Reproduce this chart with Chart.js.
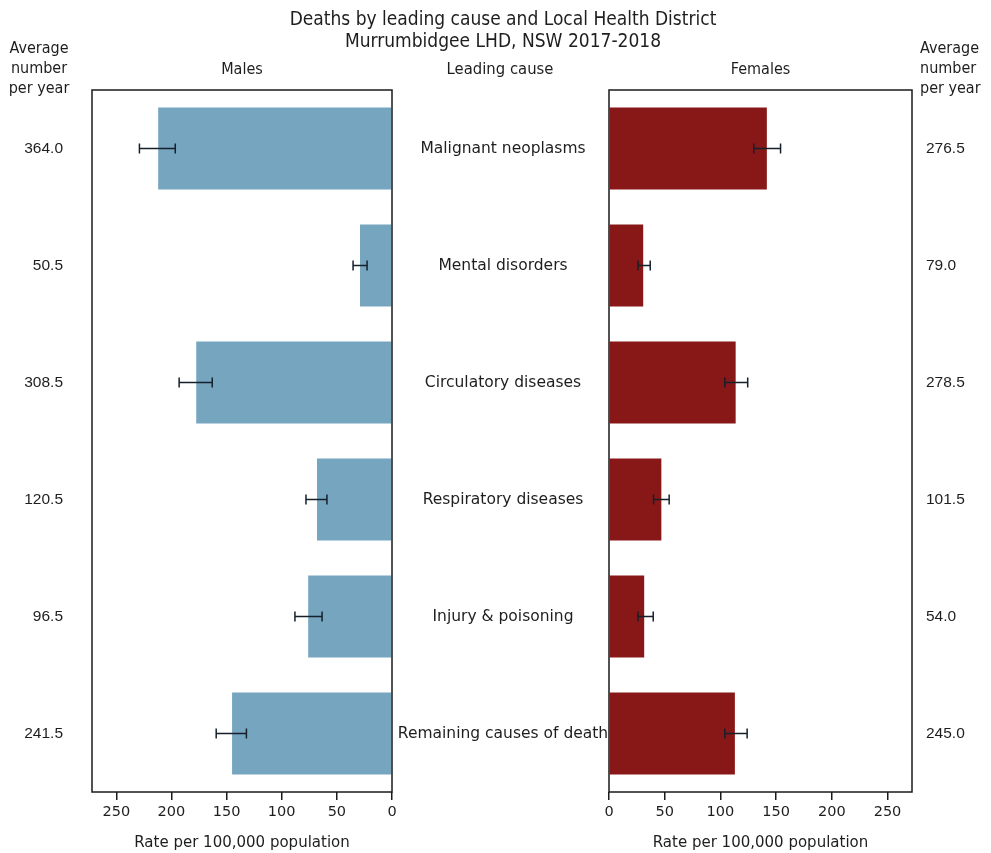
<!DOCTYPE html>
<html>
<head>
<meta charset="utf-8">
<script src="https://cdn.jsdelivr.net/npm/chart.js@4"></script>
<style>
  body { margin: 0; background: #fff; }
  #wrap { position: relative; width: 991px; height: 853px; }
  #wrap canvas { position: absolute; left: 0; top: 0; }
</style>
</head>
<body>
<div id="wrap">
  <canvas id="males" width="991" height="853"></canvas>
  <canvas id="females" width="991" height="853"></canvas>
</div>
<script>
// values (rate per 100,000, with 95% CI)
const causes = ["Malignant neoplasms", "Mental disorders", "Circulatory diseases",
  "Respiratory diseases", "Injury & poisoning", "Remaining causes of death"];
const maleRate = [212, 29, 177.5, 68, 76, 145];
const maleLow = [196.5, 22.6, 163, 59, 63.4, 132];
const maleHigh = [229, 35.3, 193, 78, 88, 159.4];
const maleAvg = ["364.0", "50.5", "308.5", "120.5", "96.5", "241.5"];
const femaleRate = [141.7, 30.7, 113.7, 47, 31.6, 113];
const femaleLow = [130, 26, 104, 40, 26, 104];
const femaleHigh = [154, 37, 124.5, 54, 39.7, 124];
const femaleAvg = ["276.5", "79.0", "278.5", "101.5", "54.0", "245.0"];
const rateTicks = [0, 50, 100, 150, 200, 250];

const textColor = "#1e1e1e";
const narrow = "'DejaVu Sans Condensed', 'DejaVu Sans'";
Chart.defaults.font.family = "DejaVu Sans";
Chart.defaults.color = textColor;

// draws the frame and the error bars
const boxAndErrors = {
  id: "boxAndErrors",
  afterDatasetsDraw(chart, args, opts) {
    const ctx = chart.ctx;
    const a = chart.chartArea;
    const x = chart.scales.x, y = chart.scales.y;
    ctx.save();
    ctx.strokeStyle = "#1a1a1a";
    ctx.lineWidth = 1.5;
    ctx.strokeRect(a.left, a.top, a.right - a.left, a.bottom - a.top);
    ctx.strokeStyle = "#15202b";
    ctx.lineWidth = 1.5;
    opts.low.forEach((lo, i) => {
      const x1 = x.getPixelForValue(lo);
      const x2 = x.getPixelForValue(opts.high[i]);
      const yy = y.getPixelForValue(i);
      ctx.beginPath();
      ctx.moveTo(x1, yy); ctx.lineTo(x2, yy);
      ctx.moveTo(x1, yy - 5); ctx.lineTo(x1, yy + 5);
      ctx.moveTo(x2, yy - 5); ctx.lineTo(x2, yy + 5);
      ctx.stroke();
    });
    ctx.restore();
  }
};

// text around the panels
const labels = {
  id: "labels",
  afterDraw(chart, args, opts) {
    const ctx = chart.ctx;
    const a = chart.chartArea;
    const y = chart.scales.y;
    ctx.save();
    ctx.fillStyle = textColor;
    ctx.textBaseline = "middle";
    ctx.font = "16px " + narrow;
    ctx.textAlign = "center";
    ctx.fillText(opts.header, (a.left + a.right) / 2, 70);
    ["Average", "number", "per year"].forEach((t, i) => {
      ctx.textAlign = opts.side === "left" ? "center" : "left";
      ctx.fillText(t, opts.side === "left" ? 39 : 920, 49 + i * 20);
    });
    ctx.font = "15.5px 'Liberation Sans'";
    opts.avg.forEach((v, i) => {
      const yy = y.getPixelForValue(i);
      if (opts.side === "left") { ctx.textAlign = "right"; ctx.fillText(v, 63, yy); }
      else { ctx.textAlign = "left"; ctx.fillText(v, 926, yy); }
    });
    if (opts.side === "left") {
      ctx.textAlign = "center";
      ctx.font = "19px " + narrow;
      ctx.fillText("Deaths by leading cause and Local Health District", 503, 20);
      ctx.fillText("Murrumbidgee LHD, NSW 2017-2018", 503, 42);
      ctx.font = "16.5px " + narrow;
      ctx.fillText("Leading cause", 500, 70);
      ctx.font = "15.5px 'DejaVu Sans'";
      causes.forEach((c, i) => ctx.fillText(c, 503, y.getPixelForValue(i)));
    }
    ctx.restore();
  }
};

function makePanel(id, side, rate, low, high, avg, color, padL, padR, header) {
  return new Chart(document.getElementById(id), {
    type: "bar",
    data: {
      labels: causes,
      datasets: [{ data: rate, backgroundColor: color, barPercentage: 0.7, categoryPercentage: 1 }]
    },
    options: {
      indexAxis: "y",
      responsive: false,
      animation: false,
      layout: { padding: { left: padL, right: padR, top: 90, bottom: 0 } },
      plugins: {
        legend: { display: false },
        tooltip: { enabled: false },
        boxAndErrors: { low: low, high: high },
        labels: { side: side, avg: avg, header: header }
      },
      scales: {
        y: { display: false },
        x: {
          min: 0, max: 272,
          reverse: side === "left",
          afterBuildTicks: (s) => { s.ticks = rateTicks.map(v => ({ value: v })); },
          afterFit: (s) => { s.height = 61; },
          border: { display: false },
          grid: { drawOnChartArea: false, drawTicks: true, tickLength: 8, color: "#1a1a1a", lineWidth: 1.5 },
          ticks: { font: { size: 14.5 }, padding: 4, maxRotation: 0 },
          title: { display: true, text: "Rate per 100,000 population", font: { size: 15 }, padding: { top: 2, bottom: 1 } }
        }
      }
    },
    plugins: [boxAndErrors, labels]
  });
}

makePanel("males", "left", maleRate, maleLow, maleHigh, maleAvg, "#76a5c0", 92, 599, "Males");
makePanel("females", "right", femaleRate, femaleLow, femaleHigh, femaleAvg, "#881818", 609, 79, "Females");
</script>
</body>
</html>
